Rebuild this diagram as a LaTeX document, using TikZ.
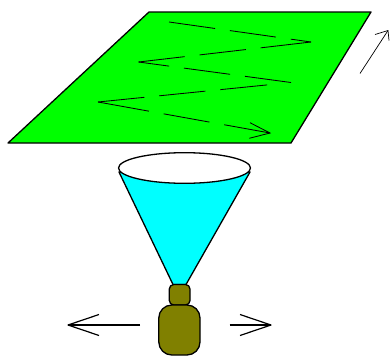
\documentclass[tikz,border=0pt]{standalone}
\definecolor{plane}{RGB}{0,255,0}
\definecolor{beam}{RGB}{0,255,255}
\definecolor{scanner}{RGB}{128,128,0}
\tikzset{
  x=1pt,y=-1pt,
  outline/.style={draw=black,line width=1.3pt,line join=round},
  scanline/.style={black,line width=0.85pt},
  motion/.style={black,line width=1.2pt,line join=round},
  thinmotion/.style={black,line width=0.7pt,line join=round}
}
\begin{document}
\begin{tikzpicture}
\useasboundingbox (0,0) rectangle (390,356);
% scanned plane
\path[outline,fill=plane] (8,143) -- (149,12) -- (371,12) -- (291,143) -- cycle;
% zigzag scan path
\coordinate (z1) at (169,22);
\coordinate (z2) at (311,42);
\coordinate (z3) at (138.5,62);
\coordinate (z4) at (291,82.5);
\coordinate (z5) at (98,102);
\coordinate (z6) at (270,133);
\draw[scanline,dash pattern=on 46.5pt off 15pt on 46.5pt off 15pt on 60pt off 10pt] (z1) -- (z2);
\draw[scanline,dash pattern=on 46.5pt off 15pt on 46.5pt off 15pt on 60pt off 10pt] (z3) -- (z2);
\draw[scanline,dash pattern=on 46.5pt off 15pt on 46.5pt off 15pt on 60pt off 10pt] (z4) -- (z3);
\draw[scanline,dash pattern=on 46.5pt off 15pt on 46.5pt off 15pt on 47pt off 30pt] (z5) -- (z4);
\draw[scanline,dash pattern=on 46.5pt off 15pt on 46.5pt off 15pt on 60pt off 10pt] (z6) -- (z5);
\draw[scanline] (250,122.7) -- (z6) -- (249.3,138.3);
% plane motion arrow
\coordinate (m1) at (360,73.5);
\coordinate (m2) at (388,30.5);
\draw[thinmotion] (m1) -- (m2);
\draw[thinmotion] (375,34.5) -- (m2) -- (389,40.5);
% beam cone
\path[outline,fill=beam] (119,172) -- (173,284.5) -- (186,284.5) -- (250,172) -- cycle;
\path[outline,fill=white] (184.5,168) ellipse [x radius=66,y radius=15.3];
% scanner head
\path[outline,fill=scanner,rounded corners=4.5pt] (169.3,284.5) rectangle (190,305);
\path[outline,fill=scanner,rounded corners=13pt] (158.8,305) rectangle (200,355);
% left and right motion arrows
\coordinate (c1) at (140,325);
\coordinate (l) at (68,325);
\coordinate (c2) at (229.5,325);
\coordinate (r) at (271,325);
\draw[motion] (c1) -- (l);
\draw[motion] (99,314.5) -- (l) -- (99,335.5);
\draw[motion] (c2) -- (r);
\draw[motion] (240,314.5) -- (r) -- (240,335.5);
\end{tikzpicture}
\end{document}
